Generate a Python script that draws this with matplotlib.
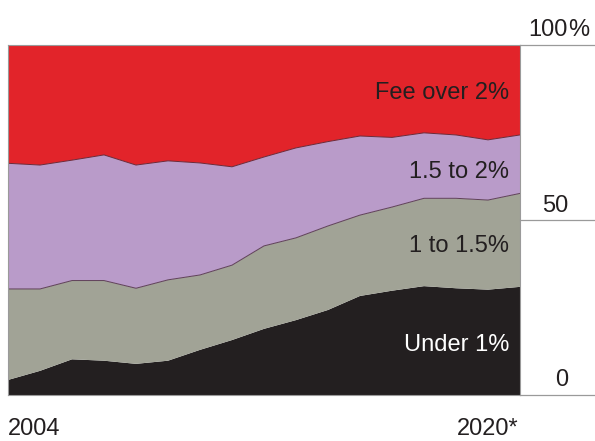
import matplotlib
matplotlib.use("Agg")
import matplotlib.pyplot as plt
from matplotlib.lines import Line2D
import numpy as np

plt.rcParams['font.family'] = ['Liberation Sans', 'DejaVu Sans']

# Share of funds by fee level, 2004 to 2020 (percent)
years = list(range(2004, 2021))
under_1 = [4.3, 6.9, 10.2, 9.8, 8.9, 9.8, 12.9, 15.7, 18.9, 21.4, 24.3, 28.3, 29.8, 31.1, 30.5, 30.1, 30.9]
one_to_1_5 = [26.0, 23.4, 22.5, 22.9, 21.6, 23.1, 21.4, 21.4, 23.7, 23.5, 24.0, 23.1, 23.9, 25.1, 25.7, 25.6, 26.7]
one_5_to_2 = [35.9, 35.4, 34.4, 35.9, 35.2, 34.0, 32.0, 28.1, 25.4, 25.7, 24.1, 22.6, 19.9, 18.7, 18.1, 17.2, 16.7]
over_2 = [33.8, 34.3, 32.9, 31.4, 34.3, 33.1, 33.7, 34.8, 32.0, 29.4, 27.6, 26.0, 26.4, 25.1, 25.7, 27.1, 25.7]

series_labels = ["Under 1%", "1 to 1.5%", "1.5 to 2%", "Fee over 2%"]
colors = ["#231f20", "#a1a396", "#b99bc9", "#e2242a"]
tick_values = [0, 50, 100]
tick_labels = ["0", "50", "100"]
year_labels = ["2004", "2020*"]

W, H = 595, 441
fig = plt.figure(figsize=(W / 100, H / 100), dpi=100)
ax = fig.add_axes([8 / W, 1 - 395 / H, (520 - 8) / W, 350 / H])

ax.stackplot(years, under_1, one_to_1_5, one_5_to_2, over_2,
             colors=colors, linewidth=0)

# thin dark edges between the upper layers
cum = np.cumsum([under_1, one_to_1_5, one_5_to_2], axis=0)
ax.plot(years, cum[1], color="#5e3f57", lw=0.7)
ax.plot(years, cum[2], color="#6a2a3a", lw=0.7)

ax.set_xlim(years[0], years[-1])
ax.set_ylim(0, 100)
ax.set_xticks([])
ax.set_yticks([])
for s in ax.spines.values():
    s.set_color("#9a9a9a")
    s.set_linewidth(0.8)

# series labels inside the areas
fs = 17
label_x = 2019.66
ax.text(label_x, 84.5, series_labels[3], ha="right", va="baseline", fontsize=fs, color="#231f20")
ax.text(label_x, 62.1, series_labels[2], ha="right", va="baseline", fontsize=fs, color="#231f20")
ax.text(label_x, 40.9, series_labels[1], ha="right", va="baseline", fontsize=fs, color="#231f20")
ax.text(label_x, 12.7, series_labels[0], ha="right", va="baseline", fontsize=fs, color="white")

# scale on the right: rules running to the edge, numbers above them
for v, lab in zip(tick_values, tick_labels):
    y_fig = 1 - (395 - v * 3.5) / H
    fig.add_artist(Line2D([520 / W, 1.0], [y_fig, y_fig], color="#9a9a9a", lw=0.9))
    y_txt = y_fig + 8.5 / H
    fig.text(568 / W, y_txt, lab, ha="right", va="baseline", fontsize=fs, color="#231f20")
    if v == 100:
        fig.text(568 / W, y_txt, "%", ha="left", va="baseline", fontsize=fs, color="#231f20")

# first and last year under the chart
fig.text(8 / W, 1 - 435 / H, year_labels[0], ha="left", va="baseline", fontsize=fs, color="#231f20")
fig.text(518 / W, 1 - 435 / H, year_labels[1], ha="right", va="baseline", fontsize=fs, color="#231f20")

fig.savefig("out.png", dpi=100)
